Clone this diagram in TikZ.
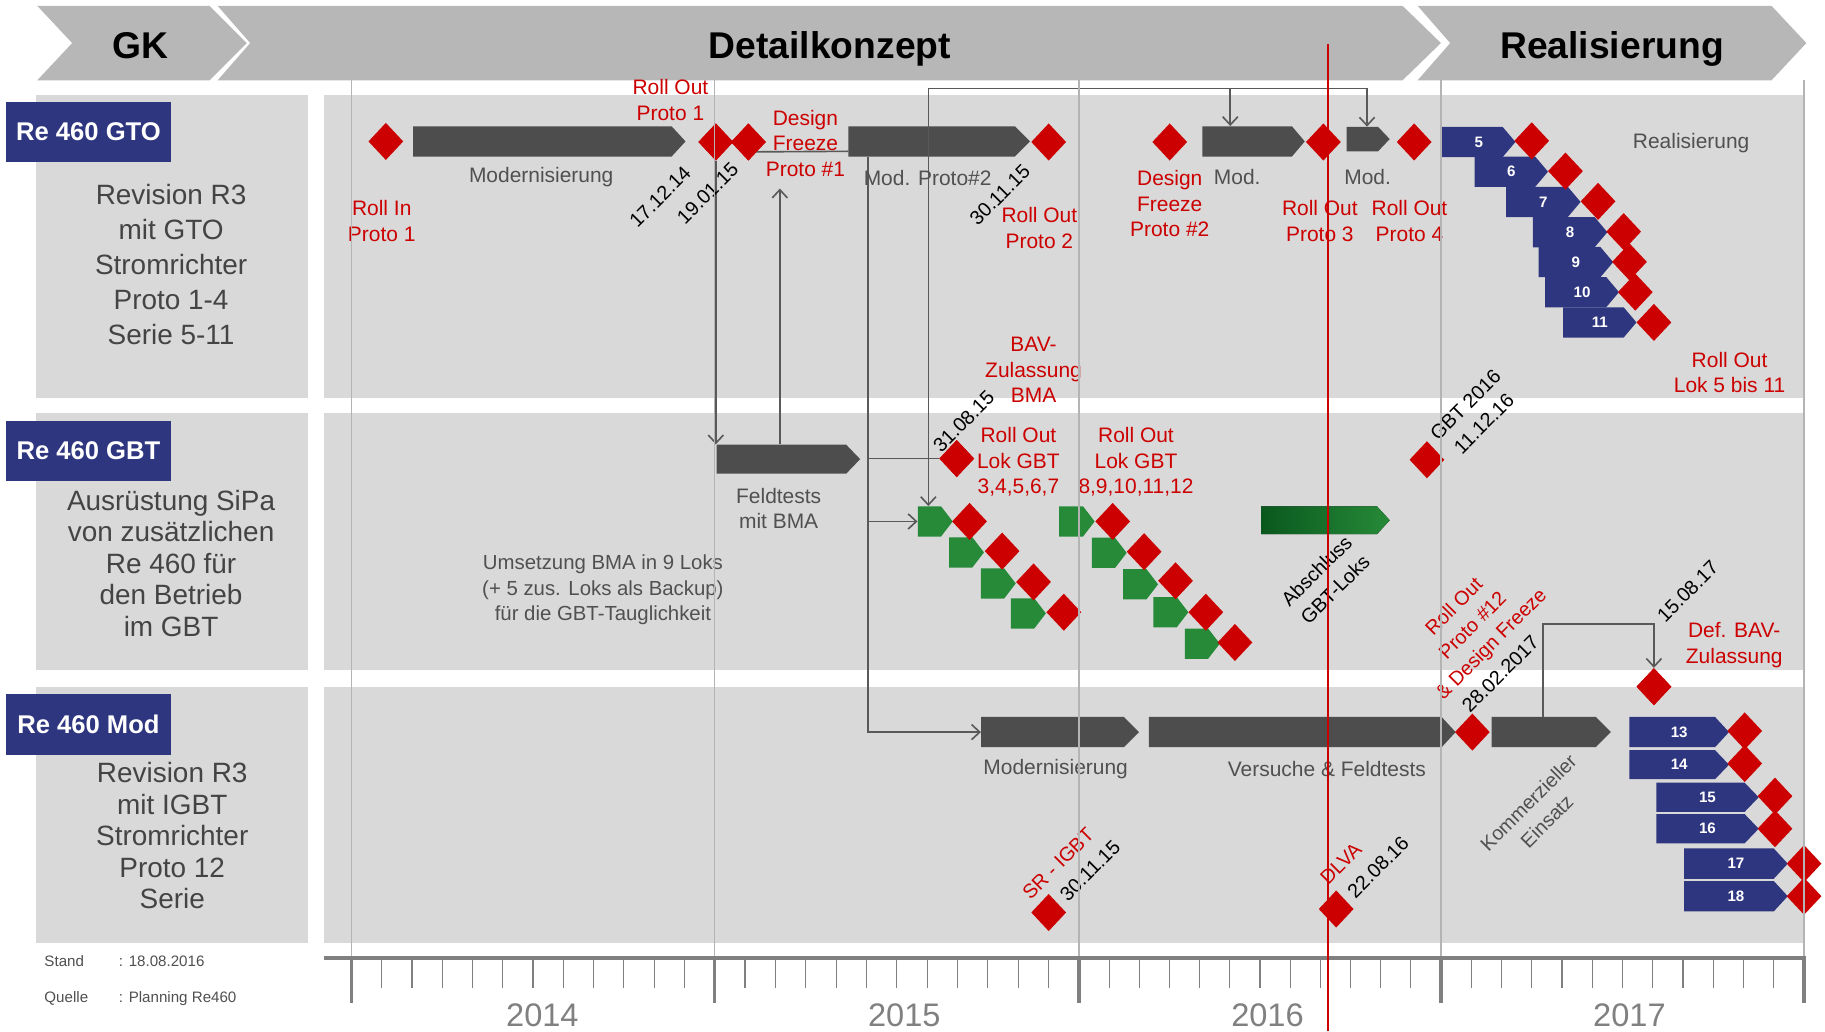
\documentclass[tikz,border=0pt]{standalone}
\usepackage{fontspec}
\setmainfont{Liberation Sans}
\usetikzlibrary{shapes.geometric,arrows.meta,calc}
\definecolor{chev}{RGB}{183,183,183}
\definecolor{panel}{RGB}{217,217,217}
\definecolor{navy}{RGB}{47,54,128}
\definecolor{darkbar}{RGB}{77,77,77}
\definecolor{mred}{RGB}{204,0,0}
\definecolor{mgreen}{RGB}{38,138,56}
\definecolor{dgreen}{RGB}{10,88,30}
\definecolor{conncol}{RGB}{89,89,89}
\definecolor{gridc}{RGB}{180,180,180}
\definecolor{txtgray}{RGB}{80,80,80}
\definecolor{axisc}{RGB}{128,128,128}
\newcommand{\fs}[2]{\fontsize{#1}{#2}\selectfont}
% name, x-left, x-tip, y-centre, height, tip length, fill options, text
\newcommand{\mkbar}[8]{%
  \fill[#7] ({#2},{#4-#5/2}) -- ({#3-#6},{#4-#5/2}) -- (#3,#4) -- ({#3-#6},{#4+#5/2}) -- ({#2},{#4+#5/2}) -- cycle;
  \node[inner sep=0pt, minimum height=#5pt, minimum width={#3-#2}, text=white, font=\bfseries\fs{13}{15}] (#1) at ({(#2+#3)/2},#4) {#8};}
\begin{document}
\begin{tikzpicture}[x=1pt,y=-1pt,
  dmd/.style={diamond, fill=mred, minimum width=30pt, minimum height=32pt, inner sep=0pt},
  redlbl/.style={text=mred, font=\fs{18}{22}, align=center, inner sep=0pt},
  graylbl/.style={text=txtgray, font=\fs{18}{22}, align=center, inner sep=0pt},
  datelbl/.style={text=black, font=\fs{17}{20}, rotate=45, inner sep=0pt},
  rdatelbl/.style={text=mred, font=\fs{17}{20}, rotate=45, inner sep=0pt},
  multirot/.style={font=\fs{17}{22.5}, rotate=45, inner sep=0pt, align=center},
  navybox/.style={fill=navy, text=white, font=\bfseries\fs{22}{26}, minimum width=142pt, minimum height=52pt, inner sep=0pt},
  sidetxt/.style={text=txtgray!85!black, font=\fs{24}{30}, align=center, inner sep=0pt},
  hdr/.style={font=\bfseries\fs{32}{38}, text=black, inner sep=0pt, anchor=base},
  smalltxt/.style={text=txtgray, font=\fs{13}{15}, anchor=west, inner sep=0pt},
  yr/.style={text=axisc, font=\fs{28}{32}, inner sep=0pt},
  conn/.style={draw=conncol, line width=1.4pt},
  arr/.style={conn, -{Straight Barb[length=7pt,width=13pt]}}]
\useasboundingbox (0,0) rectangle (1568,886);
\fill[white] (0,0) rectangle (1568,886);
% header chevrons
\fill[chev] (32,5) -- (180,5) -- (212,37) -- (180,69) -- (32,69) -- (62,37) -- cycle;
\fill[chev] (187,5) -- (1205,5) -- (1238,37) -- (1205,69) -- (187,69) -- (215,37) -- cycle;
\fill[chev] (1218,5) -- (1522,5) -- (1552,37) -- (1522,69) -- (1218,69) -- (1246,37) -- cycle;
\node[hdr] (hgk) at (121,50) {GK};
\node[hdr] (hdk) at (713,50) {Detailkonzept};
\node[hdr] (hre) at (1385,50) {Realisierung};
% panels
\fill[panel] (31,82) rectangle (265,342);
\fill[panel] (278,82) rectangle (1550,342);
\fill[panel] (31,355) rectangle (265,576);
\fill[panel] (278,355) rectangle (1550,576);
\fill[panel] (31,590) rectangle (265,810);
\fill[panel] (278,590) rectangle (1550,810);
% side labels
\node[navybox] (lgto) at (76,113.5) {Re 460 GTO};
\node[navybox] (lgbt) at (76,387.5) {Re 460 GBT};
\node[navybox] (lmod) at (76,622.5) {Re 460 Mod};
\node[sidetxt] (tgto) at (147,227) {Revision R3\\mit GTO\\Stromrichter\\Proto 1-4\\Serie 5-11};
\node[sidetxt, font=\fs{24}{27}] (tgbt) at (147,484) {Ausrüstung SiPa\\von zusätzlichen\\Re 460 für\\den Betrieb\\im GBT};
\node[sidetxt, font=\fs{24}{27}] (tmod) at (148,718) {Revision R3\\mit IGBT\\Stromrichter\\Proto 12\\Serie};
\node[smalltxt] (stand) at (38,826) {Stand};
\node[smalltxt] (standv) at (102,826) {: 18.08.2016};
\node[smalltxt] (quelle) at (38,858) {Quelle};
\node[smalltxt] (quellev) at (102,858) {: Planning Re460};
% GTO bars
\mkbar{m1}{355}{589}{121.5}{26}{12}{darkbar}{}
\mkbar{mp2}{729}{885}{121.5}{26}{13}{darkbar}{}
\mkbar{m3}{1033}{1121}{121.5}{26}{11}{darkbar}{}
\mkbar{m4}{1157}{1194}{119.5}{21}{10}{darkbar}{}
\mkbar{b5}{1239}{1302}{122}{26}{11}{navy}{5}
\mkbar{b6}{1267}{1330}{147.5}{26}{11}{navy}{6}
\mkbar{b7}{1294}{1358}{173.5}{26}{11}{navy}{7}
\mkbar{b8}{1317}{1381}{199.5}{26}{11}{navy}{8}
\mkbar{b9}{1322}{1386}{225.2}{26}{11}{navy}{9}
\mkbar{b10}{1327.5}{1391}{251}{26}{11}{navy}{10}
\mkbar{b11}{1343}{1406}{277}{26}{11}{navy}{11}
% GBT bars
\mkbar{feld}{615.7}{739}{394.5}{25}{12}{darkbar}{}
\mkbar{ga1}{788.5}{818.5}{448}{26}{10}{mgreen}{}
\mkbar{ga2}{815.4}{845.4}{474.6}{26}{10}{mgreen}{}
\mkbar{ga3}{842.7}{872.7}{501.3}{26}{10}{mgreen}{}
\mkbar{ga4}{868.6}{898.6}{527}{26}{10}{mgreen}{}
\mkbar{gb1}{910}{940.5}{448}{26}{10}{mgreen}{}
\mkbar{gb2}{938}{968}{475}{26}{10}{mgreen}{}
\mkbar{gb3}{965}{995}{502}{26}{10}{mgreen}{}
\mkbar{gb4}{991}{1021}{526}{26}{10}{mgreen}{}
\mkbar{gb5}{1018}{1048}{553}{26}{10}{mgreen}{}
\mkbar{absch}{1083.6}{1194}{447}{24}{11}{left color=dgreen, right color=mgreen}{}
% Mod bars
\mkbar{mb2}{843}{978.6}{629}{26}{13}{darkbar}{}
\mkbar{vers}{987}{1250.6}{629}{26}{12}{darkbar}{}
\mkbar{kom}{1281.6}{1384}{629}{26}{13}{darkbar}{}
\mkbar{b13}{1400}{1485.5}{629}{26}{12}{navy}{13}
\mkbar{b14}{1400}{1485.5}{657}{25}{12}{navy}{14}
\mkbar{b15}{1423}{1511}{685}{25}{12}{navy}{15}
\mkbar{b16}{1423}{1511}{712}{25}{12}{navy}{16}
\mkbar{b17}{1447}{1536}{742}{26}{12}{navy}{17}
\mkbar{b18}{1447}{1536}{770}{26}{12}{navy}{18}
% diamonds
\node[dmd] (drin) at (331.5,121.5) {};
\node[dmd] (dro1) at (615,122) {};
\node[dmd] (ddf1) at (643,122) {};
\node[dmd] (dro2) at (901,122) {};
\node[dmd] (ddf2) at (1005,122) {};
\node[dmd] (dro3) at (1137,122) {};
\node[dmd] (dro4) at (1215,122) {};
\node[dmd] (d5) at (1316,121) {};
\node[dmd] (d6) at (1345,147) {};
\node[dmd] (d7) at (1373,173) {};
\node[dmd] (d8) at (1395,199) {};
\node[dmd] (d9) at (1400,225) {};
\node[dmd] (d10) at (1405,251) {};
\node[dmd] (d11) at (1421,277) {};
\node[dmd] (dbav) at (822,394) {};
\node[dmd] (dgbt) at (1226,395) {};
\node[dmd] (dga1) at (833,448) {};
\node[dmd] (dga2) at (861,473.5) {};
\node[dmd] (dga3) at (888,500) {};
\node[dmd] (dga4) at (914,526) {};
\node[dmd] (dgb1) at (956,448) {};
\node[dmd] (dgb2) at (983,474) {};
\node[dmd] (dgb3) at (1010,499) {};
\node[dmd] (dgb4) at (1036,526) {};
\node[dmd] (dgb5) at (1061,552) {};
\node[dmd] (dro12) at (1265,629) {};
\node[dmd] (dbav2) at (1421,590) {};
\node[dmd] (d13) at (1499,628) {};
\node[dmd] (d14) at (1499,656) {};
\node[dmd] (d15) at (1525,684) {};
\node[dmd] (d16) at (1525,712) {};
\node[dmd] (d17) at (1550,742) {};
\node[dmd] (d18) at (1550,770) {};
\node[dmd] (dsr) at (901,784) {};
\node[dmd] (ddlva) at (1148,781) {};
% connectors
\coordinate (upc) at (670,162);
\coordinate (jx) at (745.5,133);
\coordinate (tb) at (797.6,76);
\coordinate (tb2) at (1057,76);
\coordinate (tb3) at (1174.5,76);
\coordinate (kb) at (1325.6,536);
\draw[arr] (dro1.south) -- (dro1.south |- feld.north);
\draw[arr] (feld.north -| upc) -- (upc);
\draw[conn] ([yshift=-8.5pt]ddf1.center) -- ([yshift=-8.5pt]mp2.west);
\draw[arr] (mp2.south -| jx) |- (mb2.west);
\draw[conn] (jx |- dbav.west) -- (dbav.west);
\draw[arr] (jx |- ga1.west) -- (ga1.west);
\draw[conn] (tb) -- (tb3);
\draw[arr] (tb) -- (tb |- ga1.north);
\draw[arr] (tb2) -- (tb2 |- m3.north);
\draw[arr] (tb3) -- (tb3 |- m4.north);
\draw[arr] (kb |- kom.north) -- (kb) -- (kb -| dbav2) -- (dbav2.north);
% redraw diamonds that connectors touch
\node[dmd] at (dro1) {};
\node[dmd] at (ddf1) {};
\node[dmd] at (dbav) {};
\node[dmd] at (dbav2) {};
% labels GTO
\node[redlbl] (lrin) at (328,190) {Roll In\\Proto 1};
\node[redlbl] (lro1) at (576,86) {Roll Out\\Proto 1};
\node[redlbl] (ldf1) at (692,123) {Design\\Freeze\\Proto \#1};
\node[redlbl] (lro2) at (893,196) {Roll Out\\Proto 2};
\node[redlbl] (ldf2) at (1005,175) {Design\\Freeze\\Proto \#2};
\node[redlbl] (lro3) at (1134,190) {Roll Out\\Proto 3};
\node[redlbl] (lro4) at (1211,190) {Roll Out\\Proto 4};
\node[redlbl] (llok) at (1486,320) {Roll Out\\Lok 5 bis 11};
\node[graylbl] (lm1) at (465,152) {Modernisierung};
\node[graylbl] (lmp2) at (797,153) {Mod. Proto\#2};
\node[graylbl] (lm3) at (1063,152) {Mod.};
\node[graylbl] (lm4) at (1175,152) {Mod.};
\node[graylbl] (lreal) at (1453,123) {Realisierung};
\node[datelbl] (t1) at (567,169) {17.12.14};
\node[datelbl] (t2) at (608,166) {19.01.15};
\node[datelbl] (t3) at (859,167.5) {30.11.15};
% labels GBT
\node[redlbl] (lbav) at (888,318) {BAV-\\Zulassung\\BMA};
\node[redlbl] (lrg1) at (875,397) {Roll Out\\Lok GBT\\3,4,5,6,7};
\node[redlbl] (lrg2) at (976,397) {Roll Out\\Lok GBT\\8,9,10,11,12};
\node[graylbl] (lfeld) at (669,437) {Feldtests\\mit BMA};
\node[graylbl, font=\fs{17.5}{22}] (lums) at (518,507) {Umsetzung BMA in 9 Loks\\(+ 5 zus. Loks als Backup)\\für die GBT-Tauglichkeit};
\node[datelbl] (t4) at (828,362) {31.08.15};
\node[multirot] (t5) at (1267,356) {GBT 2016\\11.12.16};
\node[multirot] (t7) at (1139,498.5) {Abschluss\\GBT-Loks};
% labels Mod
\node[graylbl] (lmb2) at (907,661) {Modernisierung};
\node[graylbl] (lvers) at (1140,661) {Versuche \& Feldtests};
\node[multirot, text=txtgray] (t9) at (1321,697.5) {Kommerzieller\\Einsatz};
\node[redlbl] (ldef) at (1490,554) {Def. BAV-\\Zulassung};
\node[multirot, text=mred] (r1) at (1266,538) {Roll Out\\Proto \#12\\\& Design Freeze};
\node[datelbl] (t11) at (1289,579) {28.02.2017};
\node[datelbl] (t12) at (1450,508) {15.08.17};
\node[rdatelbl] (r4) at (909,742) {SR - IGBT};
\node[datelbl] (t13) at (936.5,748) {30.11.15};
\node[rdatelbl] (r5) at (1152,742) {DLVA};
\node[datelbl] (t14) at (1184,745) {22.08.16};
% gridlines
\foreach \x in {302,614,927,1238,1550}
  \draw[gridc, line width=1pt] (\x,69) -- (\x,823);
% timeline
\draw[axisc, line width=3pt] (278,823) -- (1552,823);
\foreach \x in {302,614,927,1238,1550}
  \draw[axisc, line width=3pt] (\x,823) -- (\x,862);
\foreach \a/\b in {302/614,614/927,927/1238,1238/1550}
  \foreach \m in {1,...,11}
    \draw[axisc, line width=1pt] ({\a+(\b-\a)*\m/12},823) -- ({\a+(\b-\a)*\m/12},849);
\node[yr] (y14) at (466,872) {2014};
\node[yr] (y15) at (777,872) {2015};
\node[yr] (y16) at (1089,872) {2016};
\node[yr] (y17) at (1400,872) {2017};
% today line
\draw[mred, line width=1.5pt] (1141,38) -- (1141,886);
\end{tikzpicture}
\end{document}
